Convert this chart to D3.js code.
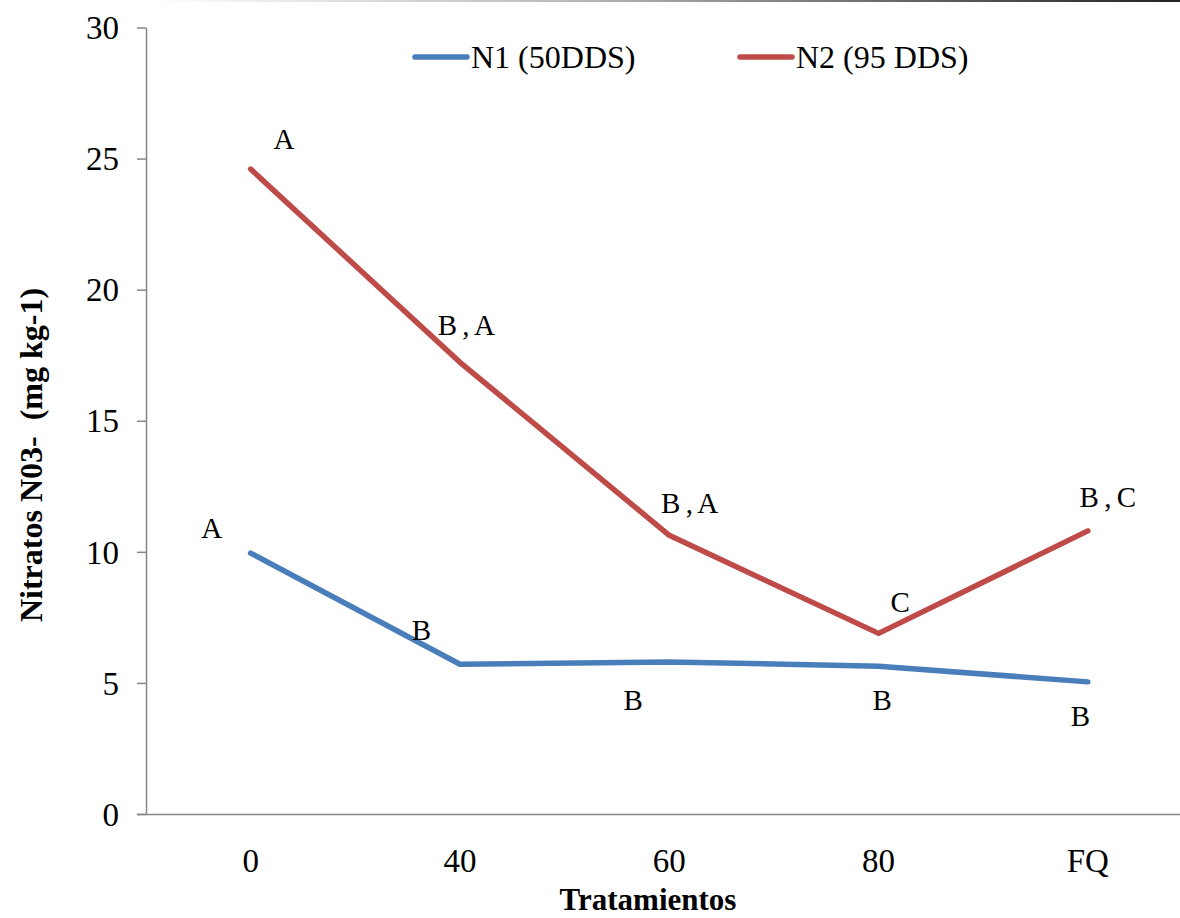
<!DOCTYPE html>
<html>
<head>
<meta charset="utf-8">
<script src="https://cdn.jsdelivr.net/npm/d3@7"></script>
<style>
html,body{margin:0;padding:0;background:#fff;}
svg{display:block;}
</style>
</head>
<body>
<svg id="chart" width="1180" height="918"></svg>
<script>
const categories = ["0", "40", "60", "80", "FQ"];
const n1Values = [9.95, 5.71, 5.80, 5.64, 5.04];
const n2Values = [24.6, 17.23, 10.63, 6.89, 10.8];
const n1Letters = ["A", "B", "B", "B", "B"];
const n2Letters = ["A", "B,A", "B,A", "C", "B,C"];
const yTicks = [0, 5, 10, 15, 20, 25, 30];
const seriesNames = ["N1 (50DDS)", "N2 (95 DDS)"];
const seriesColors = ["#4a7ebb", "#be4b48"];

// label offsets (pixels, relative to the data point)
const n1LabelOffsets = [[-39, -15], [-38.5, -24], [-36, 48], [3.5, 44], [-7.5, 44]];
const n2LabelOffsets = [[33.4, -20], [6, -27], [20, -22], [21.5, -21], [20, -24]];

const svg = d3.select("#chart");
const W = 1180, H = 918;
const m = {left: 146, top: 27.5, bottom: 814};

const x = d3.scaleBand().domain(categories).range([146, 146 + 5 * 209.3]);
const y = d3.scaleLinear().domain([0, 30]).range([m.bottom, m.top]);

// top border fragment
const defs = svg.append("defs");
const grad = defs.append("linearGradient").attr("id", "topg").attr("x1", "0%").attr("x2", "100%");
grad.append("stop").attr("offset", "0%").attr("stop-color", "#fff");
grad.append("stop").attr("offset", "40%").attr("stop-color", "#bbb");
grad.append("stop").attr("offset", "100%").attr("stop-color", "#222");
svg.append("rect").attr("x", 150).attr("y", 0).attr("width", 1030).attr("height", 2).attr("fill", "url(#topg)");

const serif = "'Liberation Serif','Times New Roman',serif";

// Y axis
const yAxis = svg.append("g").attr("transform", `translate(${m.left},0)`)
  .call(d3.axisLeft(y).tickValues(yTicks).tickSize(9).tickPadding(18).tickSizeOuter(0));
yAxis.select(".domain").attr("stroke", "#868686").attr("stroke-width", 1.5);
yAxis.selectAll(".tick line").attr("stroke", "#868686").attr("stroke-width", 1.5);
yAxis.selectAll(".tick text").attr("font-family", serif).attr("font-size", 33).attr("fill", "#000").attr("dy", "0.34em");

// X axis
const xAxis = svg.append("g").attr("transform", `translate(0,${m.bottom})`)
  .call(d3.axisBottom(x).tickSize(0).tickPadding(22).tickSizeOuter(0));
xAxis.select(".domain").attr("stroke", "#868686").attr("stroke-width", 1.5)
  .attr("d", `M137,0.5H${W}`);
xAxis.selectAll(".tick text").attr("font-family", serif).attr("font-size", 33).attr("fill", "#000")
  .attr("y", 58).attr("dy", 0);

// lines
const line = d3.line().x((d, i) => x(categories[i]) + x.bandwidth() / 2).y(d => y(d));
[n1Values, n2Values].forEach((vals, k) => {
  svg.append("path").datum(vals).attr("d", line).attr("fill", "none")
    .attr("stroke", seriesColors[k]).attr("stroke-width", 5.5)
    .attr("stroke-linejoin", "round").attr("stroke-linecap", "round");
});

// letters (monospaced cells, serif glyphs)
const cell = 18.6;
function drawLetters(vals, letters, offs) {
  const g = svg.append("g");
  vals.forEach((d, i) => {
    const cx = x(categories[i]) + x.bandwidth() / 2 + offs[i][0];
    const cy = y(d) + offs[i][1];
    const chars = letters[i].split("");
    const t = g.append("text").attr("y", cy).attr("text-anchor", "middle")
      .attr("font-family", serif).attr("font-size", 29).attr("fill", "#000");
    chars.forEach((ch, j) => {
      t.append("tspan").attr("x", cx + (j - (chars.length - 1) / 2) * cell).attr("y", cy).text(ch);
    });
  });
}
drawLetters(n1Values, n1Letters, n1LabelOffsets);
drawLetters(n2Values, n2Letters, n2LabelOffsets);

// legend
const legX = [415, 740];
seriesNames.forEach((name, k) => {
  svg.append("line").attr("x1", legX[k]).attr("x2", legX[k] + 52).attr("y1", 57).attr("y2", 57)
    .attr("stroke", seriesColors[k]).attr("stroke-width", 5.5).attr("stroke-linecap", "round");
  svg.append("text").attr("x", legX[k] + 56).attr("y", 68)
    .attr("font-family", serif).attr("font-size", 32).attr("fill", "#000").text(name);
});

// axis titles
svg.append("text").attr("x", 648).attr("y", 910).attr("text-anchor", "middle")
  .attr("font-family", serif).attr("font-size", 31).attr("font-weight", "bold").text("Tratamientos");
svg.append("text").attr("transform", "translate(42,455) rotate(-90)").attr("text-anchor", "middle")
  .attr("font-family", serif).attr("font-size", 32).attr("font-weight", "bold")
  .attr("xml:space", "preserve").style("white-space", "pre")
  .text("Nitratos N03-  (mg kg-1)");
</script>
</body>
</html>
